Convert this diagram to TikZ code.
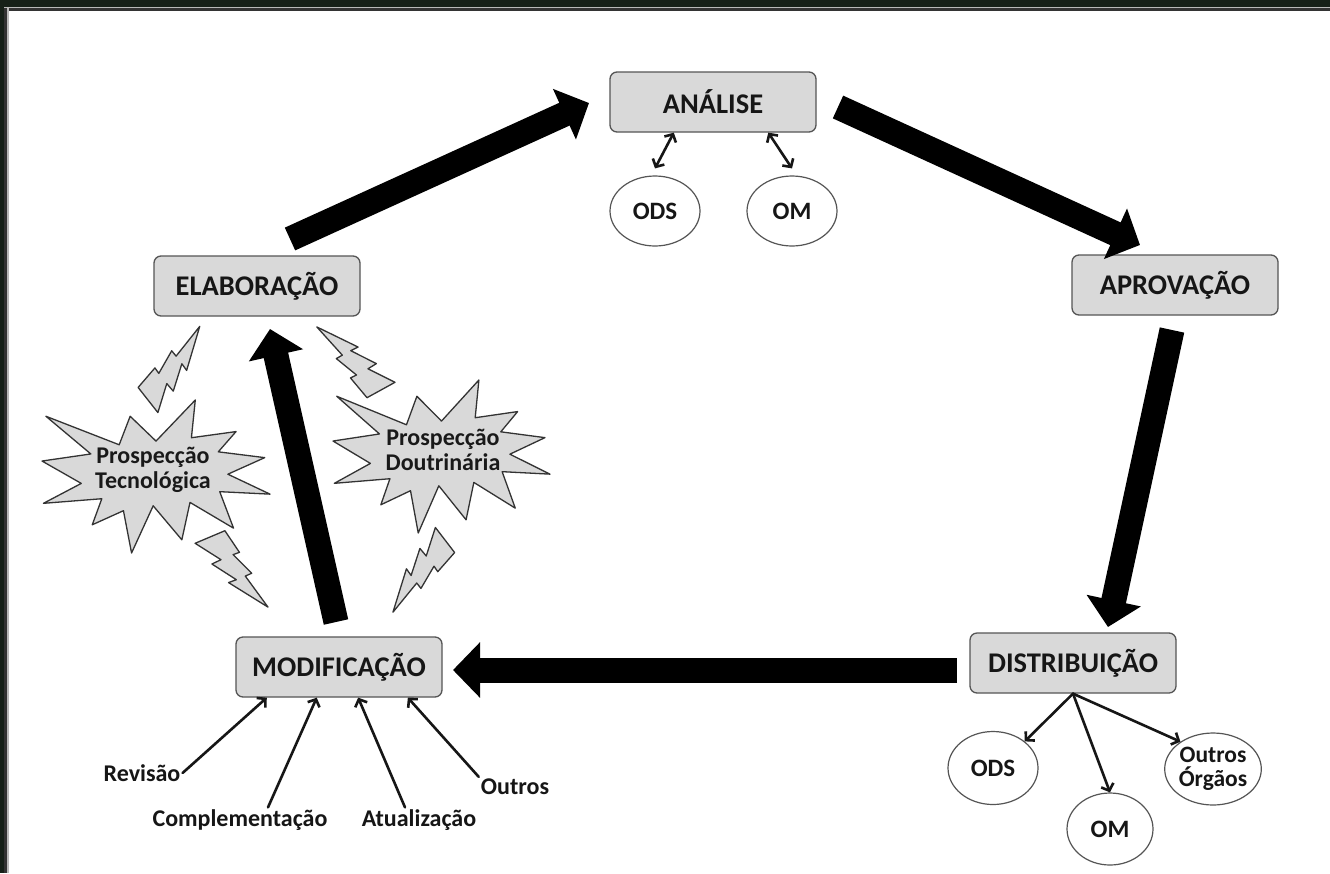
\documentclass[tikz,border=0pt]{standalone}
\usepackage{fontspec}
\setmainfont{Carlito}
\usetikzlibrary{arrows.meta,shapes.geometric}

\definecolor{framegreen}{RGB}{22,32,24}
\definecolor{boxfill}{RGB}{217,217,217}
\definecolor{edge}{RGB}{85,85,85}
\definecolor{ink}{RGB}{22,22,22}

% starburst, corner #1, units #2 and #3
\newcommand\drawseal[3]{%
  \begin{scope}[shift={#1},x=#2pt,y=#3pt]
  \filldraw[burst] (108,58) -- (145.22,0) -- (141.55,53.25) -- (183.8,44.57) -- (167.02,73.15)
    -- (210.97,81.37) -- (176.07,104.75) -- (216,132.9) -- (168.37,129.42) -- (181.45,180.95)
    -- (140.2,144.57) -- (132.47,197.37) -- (105.32,149.35) -- (84.85,216) -- (77.15,156.27)
    -- (47.62,176.17) -- (56.67,139.37) -- (1.35,145.87) -- (37.22,117.75) -- (0,86.15)
    -- (46.27,76.17) -- (3.7,22.95) -- (73.12,63.2) -- (83.52,22.95) -- cycle;
  \end{scope}}

% lightning bolt, broad end #1, angle #2, units #3 and #4
\newcommand\drawbolt[4]{%
  \begin{scope}[shift={#1},rotate=#2,x=#3pt,y=#4pt]
  \filldraw[burst] (5.1,-17) -- (33.6,-14.2) -- (31.1,-7.2) -- (59.9,-9.9) -- (57.8,-2.5)
    -- (100,0) -- (51.6,16.2) -- (54.6,7.6) -- (24.2,17.3) -- (26.9,6.6) -- (-5.1,17) -- cycle;
  \end{scope}}

\begin{document}
\begin{tikzpicture}[x=1pt,y=-1pt,line join=round,
  stage/.style={draw=edge,fill=boxfill,line width=1.3pt,rounded corners=7pt,
    minimum width=206pt,minimum height=60pt,text=ink,font=\bfseries\fontsize{28.5}{32}\selectfont},
  party/.style={ellipse,draw=edge,fill=white,line width=1.2pt,minimum width=90pt,
    minimum height=70pt,inner sep=0pt,text=ink,font=\bfseries\fontsize{25}{27}\selectfont},
  source/.style={inner sep=2pt,text=ink,font=\bfseries\fontsize{24}{26}\selectfont},
  burst/.style={draw=black!80,fill=boxfill,line width=1.3pt},
  bursttext/.style={align=center,inner sep=0pt,text=black!90,font=\bfseries\fontsize{24}{25}\selectfont},
  bigarrow/.style={draw=black,line width=25pt,line cap=butt,-{Triangle[length=27pt,width=54pt]}},
  link/.style={draw=ink,line width=2.6pt,line cap=round,>={Straight Barb[length=6pt,width=13pt]}}]
\useasboundingbox (0,0) rectangle (1330,873);
% frame
\fill[framegreen] (0,0) rectangle (1330,873);
\fill[black!80] (4,7) rectangle (1330,873);
\fill[gray!55] (4,7) rectangle (1330,8);
\fill[gray!55] (7,8) rectangle (9,873);
\fill[white] (9,11) rectangle (1330,873);

% stages
\node[stage] (analise) at (713,102) {ANÁLISE};
\node[stage] (aprov) at (1175,285) {APROVAÇÃO};
\node[stage] (distr) at (1073,663) {DISTRIBUIÇÃO};
\node[stage] (modif) at (339,667) {MODIFICAÇÃO};
\node[stage] (elab) at (257,286) {ELABORAÇÃO};

% cycle
\coordinate (t1) at (290,239); \coordinate (h1) at (589,103);
\coordinate (t2) at (838,107); \coordinate (h2) at (1140,245);
\coordinate (t3) at (1172,330); \coordinate (h3) at (1108,627);
\coordinate (t4) at (957,670); \coordinate (h4) at (453,670);
\coordinate (t5) at (336,622); \coordinate (h5) at (270,329);
\draw[bigarrow] (t1) -- (h1);
\draw[bigarrow] (t2) -- (h2);
\draw[bigarrow] (t3) -- (h3);
\draw[bigarrow] (t4) -- (h4);
\draw[bigarrow] (t5) -- (h5);

% analise
\node[party] (ods1) at (655,211) {ODS};
\node[party] (om1) at (792,211) {OM};
\draw[link,<->] (analise.218) -- ([yshift=7pt]ods1.north);
\draw[link,<->] (analise.331) -- ([yshift=7pt]om1.north);

% distribuicao
\node[party,minimum height=73pt] (ods2) at (993,768) {ODS};
\node[party,minimum width=86pt,minimum height=72pt] (om2) at (1110,829) {OM};
\node[party,minimum height=72pt,align=center,font=\bfseries\fontsize{23.5}{24}\selectfont] (orgaos) at (1213,769) {Outros\\Órgãos};
\draw[link,->] (distr.south) -- (ods2.40);
\draw[link,->] (distr.south) -- (om2.north);
\draw[link,->] (distr.south) -- (orgaos.140);

% modificacao
\node[source] (revisao) at (142,773) {Revisão};
\node[source] (complem) at (240,820) {Complementação};
\node[source] (atualiz) at (419,820) {Atualização};
\node[source] (outros) at (515,787) {Outros};
\draw[link,->] (revisao.east) -- (modif.203);
\draw[link,->] ([xshift=28pt]complem.north) -- (modif.234);
\draw[link,->] ([xshift=-14pt]atualiz.north) -- (modif.302);
\draw[link,->] (outros.north west) -- (modif.336);

% prospeccao
\drawseal{(42,400)}{1.0556}{-0.7083}
\drawseal{(333,380)}{1.0046}{-0.7083}
\node[bursttext] (tecno) at (153,470) {Prospecção\\Tecnológica};
\node[bursttext] (doutr) at (443,450) {Prospecção\\Doutrinária};
\drawbolt{(148,400)}{54.9}{0.9}{-0.9}
\drawbolt{(210,537)}{-50.4}{0.91}{-0.91}
\drawbolt{(381,390)}{135.5}{0.9}{-0.9}
\drawbolt{(445,540)}{234.2}{0.89}{-0.89}
\end{tikzpicture}
\end{document}
